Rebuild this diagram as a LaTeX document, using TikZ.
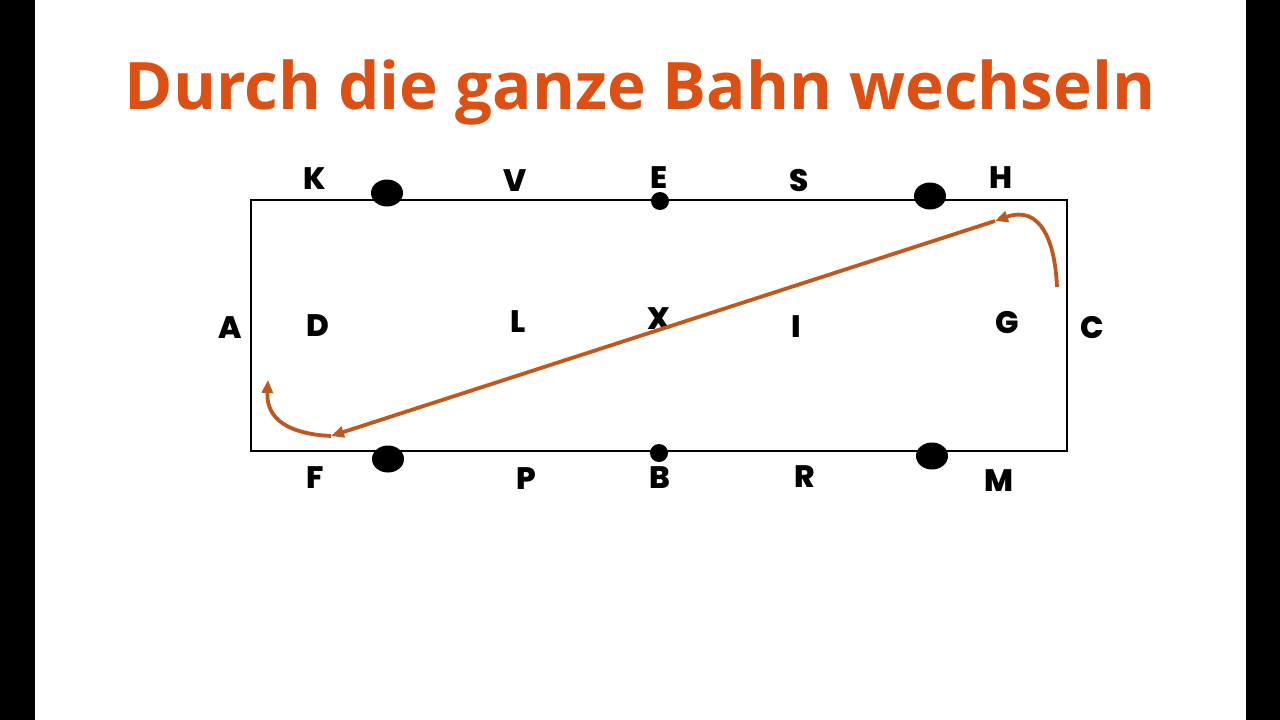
\documentclass[tikz,border=0pt]{standalone}
\usepackage{fontspec}
\setmainfont{Open Sans}
\newfontfamily\letterfont{Poppins}[BoldFont={Poppins ExtraBold}]
\definecolor{TitleOrange}{RGB}{220,80,20}
\definecolor{PathOrange}{RGB}{190,88,30}
\usetikzlibrary{arrows.meta,shapes.geometric}
\begin{document}
\begin{tikzpicture}[x=1pt, y=-1pt,
    letter/.style={font=\letterfont\bfseries\fontsize{31}{31}\selectfont, inner sep=0pt, text height=22pt, text depth=0pt},
    bigdot/.style={fill=black, ellipse, minimum width=32pt, minimum height=27pt, inner sep=0pt},
    smalldot/.style={fill=black, circle, minimum size=18pt, inner sep=0pt},
    route/.style={draw=PathOrange, line width=3.8pt, -{Triangle[length=13pt, width=11pt]}}
  ]
    \useasboundingbox (0,0) rectangle (1280,720);
    \fill[white] (0,0) rectangle (1280,720);
    \fill[black] (0,0) rectangle (35,720);
    \fill[black] (1246,0) rectangle (1280,720);

    % Title
    \node[anchor=base, text=TitleOrange, font=\bfseries\fontsize{65.5}{65.5}\selectfont, inner sep=0pt] (title) at (640,109) {Durch die ganze Bahn wechseln};

    % Bahn
    \draw[line width=2pt] (251,200) rectangle (1067,451);

    % Punkte
    \node[bigdot] (dotKV) at (387,193) {};
    \node[bigdot] (dotSH) at (930,196) {};
    \node[bigdot] (dotFP) at (388,459) {};
    \node[bigdot] (dotRM) at (932,456) {};
    \node[smalldot] (dotE) at (660,201) {};
    \node[smalldot] (dotB) at (659,453) {};

    % Buchstaben oben
    \node[letter] (K) at (315,178) {K};
    \node[letter] (V) at (515,180) {V};
    \node[letter] (E) at (659,177) {E};
    \node[letter] (S) at (799,180) {S};
    \node[letter] (H) at (1001,177) {H};

    % Buchstaben Mitte
    \node[letter] (A) at (230,327) {A};
    \node[letter] (D) at (318,325) {D};
    \node[letter] (L) at (518,321) {L};
    \node[letter] (X) at (659,318) {X};
    \node[letter] (I) at (796,326) {I};
    \node[letter] (G) at (1007,322) {G};
    \node[letter] (C) at (1092,327) {C};

    % Buchstaben unten
    \node[letter] (F) at (315,477) {F};
    \node[letter] (P) at (526,478) {P};
    \node[letter] (B) at (660,477) {B};
    \node[letter] (R) at (805,476) {R};
    \node[letter] (M) at (999,480) {M};

    % Weg
    \coordinate (start) at (1057,287);
    \coordinate (turnH) at (995,221);
    \coordinate (turnF) at (331,436);
    \coordinate (finish) at (268,380);
    \draw[route] (start) .. controls (1055,240) and (1040,205) .. (turnH);
    \draw[route] (turnH) -- (turnF);
    \draw[route] (turnF) .. controls (290,434) and (266,420) .. (finish);
\end{tikzpicture}
\end{document}
